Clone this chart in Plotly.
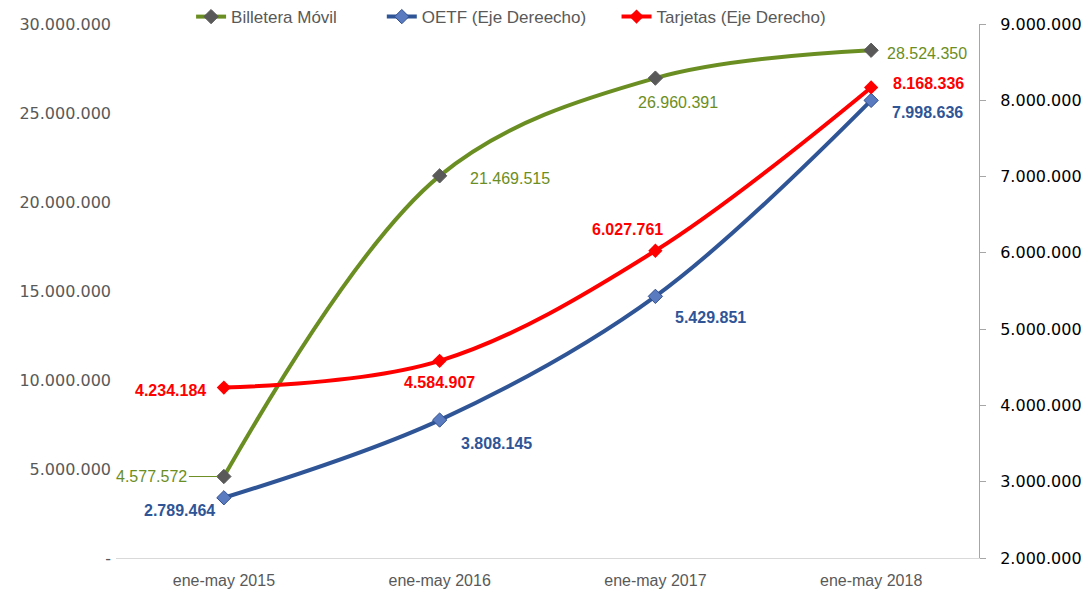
import plotly.graph_objects as go

periodos = ["ene-may 2015", "ene-may 2016", "ene-may 2017", "ene-may 2018"]
billetera = [4577572, 21469515, 26960391, 28524350]
oetf = [2789464, 3808145, 5429851, 7998636]
tarjetas = [4234184, 4584907, 6027761, 8168336]

left_ticks = [0, 5000000, 10000000, 15000000, 20000000, 25000000, 30000000]
left_text = ["-", "5.000.000", "10.000.000", "15.000.000", "20.000.000", "25.000.000", "30.000.000"]
right_ticks = [2000000, 3000000, 4000000, 5000000, 6000000, 7000000, 8000000, 9000000]

VERDE = "#6B8E23"
AZUL = "#2F5597"
ROJO = "#FF0000"


def fmt(v):
    return f"{v:,}".replace(",", ".")


fig = go.Figure()
fig.add_trace(go.Scatter(x=periodos, y=billetera, name="Billetera Móvil", mode="lines+markers",
                         legend="legend",
                         line=dict(color=VERDE, width=4, shape="spline", smoothing=1),
                         marker=dict(symbol="diamond", size=11, color="#595959",
                                     line=dict(color="#595959", width=1))))
fig.add_trace(go.Scatter(x=periodos, y=oetf, name="OETF (Eje Dereecho)", mode="lines+markers",
                         yaxis="y2", legend="legend2",
                         line=dict(color=AZUL, width=4, shape="spline", smoothing=1),
                         marker=dict(symbol="diamond", size=11, color="#5B7BC0",
                                     line=dict(color="#2F4F8F", width=1))))
fig.add_trace(go.Scatter(x=periodos, y=tarjetas, name="Tarjetas (Eje Derecho)", mode="lines+markers",
                         yaxis="y2", legend="legend3",
                         line=dict(color=ROJO, width=4, shape="spline", smoothing=1),
                         marker=dict(symbol="diamond", size=11, color=ROJO)))

# desplazamientos de las etiquetas (px)
off_b = [(-72, 0), (70, -3), (23, -24), (56, -3)]
off_o = [(-44, -13), (57, -23), (55, -21), (56, -12)]
off_t = [(-53, -3), (0, -22), (-28, 21), (57, 4)]

lab_font = dict(family="Liberation Sans", size=16)
for i, p in enumerate(periodos):
    fig.add_annotation(x=p, y=billetera[i], yref="y", text=fmt(billetera[i]),
                       showarrow=(i == 0), ax=off_b[i][0], ay=0, arrowhead=0, arrowwidth=1,
                       arrowcolor=VERDE, standoff=6,
                       xshift=0 if i == 0 else off_b[i][0], yshift=0 if i == 0 else off_b[i][1],
                       font=dict(color=VERDE, **lab_font))
    fig.add_annotation(x=p, y=oetf[i], yref="y2", text="<b>" + fmt(oetf[i]) + "</b>",
                       showarrow=False, xshift=off_o[i][0], yshift=off_o[i][1],
                       font=dict(color=AZUL, **lab_font))
    fig.add_annotation(x=p, y=tarjetas[i], yref="y2", text="<b>" + fmt(tarjetas[i]) + "</b>",
                       showarrow=False, xshift=off_t[i][0], yshift=off_t[i][1],
                       font=dict(color=ROJO, **lab_font))

leg = dict(orientation="h", xanchor="left", y=1.013, yanchor="middle",
           font=dict(family="Liberation Sans", size=17, color="#595959"),
           bgcolor="rgba(0,0,0,0)")

fig.update_layout(
    width=1083, height=585,
    margin=dict(l=108, r=112, t=16, b=35, autoexpand=False),
    plot_bgcolor="white", paper_bgcolor="white",
    separators=",.",
    showlegend=True,
    legend=dict(x=0.087, **leg),
    legend2=dict(x=0.308, **leg),
    legend3=dict(x=0.580, **leg),
    xaxis=dict(showgrid=False, showline=True, linecolor="#D9D9D9", linewidth=1,
               ticks="", ticklabelstandoff=8,
               tickfont=dict(family="Liberation Sans", size=16, color="#595959"),
               range=[-0.5, 3.5]),
    yaxis=dict(range=[0, 30000000], showgrid=False, zeroline=False, showline=False,
               tickvals=left_ticks, ticktext=left_text, ticklabelstandoff=4,
               tickfont=dict(family="DejaVu Sans", size=16, color="#595959")),
    yaxis2=dict(range=[2000000, 9000000], overlaying="y", side="right", showgrid=False,
                zeroline=False, showline=True, linecolor="#A6A6A6", linewidth=1,
                ticks="outside", ticklen=6, tickcolor="#A6A6A6",
                tickvals=right_ticks, tickformat=",d", ticklabelstandoff=11,
                tickfont=dict(family="DejaVu Sans", size=16, color="#000000")),
)

fig.write_html("out.html")
